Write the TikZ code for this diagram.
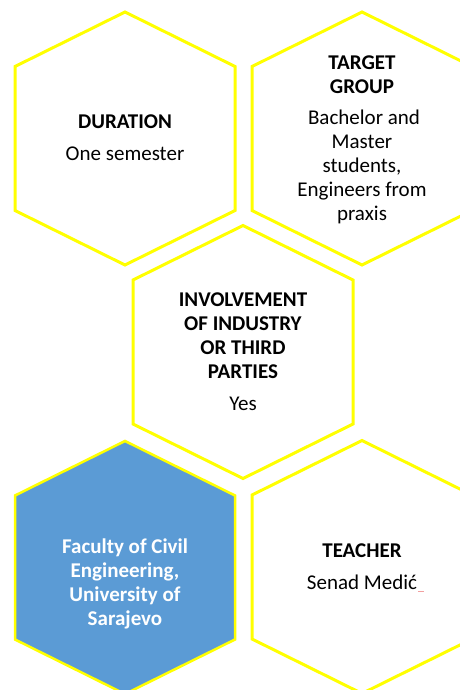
\documentclass[tikz,border=0pt]{standalone}
\usepackage{fontspec}
\setmainfont{Carlito}
\definecolor{hexyellow}{HTML}{FFFF00}
\definecolor{hexblue}{HTML}{5B9BD5}
\definecolor{spellred}{HTML}{F2A0A0}
\tikzset{
  pics/hexagon/.style={code={
    \path[pic actions] (0,-126.5) -- (110,-72) -- (110,72) -- (0,126.5) -- (-110,72) -- (-110,-72) -- cycle;
  }},
  hexline/.style={draw=hexyellow,line width=3bp,line join=miter,fill=white},
  hexfill/.style={draw=hexyellow,line width=2.5bp,line join=miter,fill=hexblue},
  hextext/.style={align=center,inner sep=0pt,text=black,font=\fontsize{21bp}{24bp}\selectfont},
  factext/.style={align=center,inner sep=0pt,text=white,font=\fontsize{21bp}{24bp}\selectfont\bfseries},
}
\begin{document}
\begin{tikzpicture}[x=1bp,y=-1bp]
\useasboundingbox (0,0) rectangle (460,690);
\fill[white] (0,0) rectangle (460,690);
\pic[hexline] at (125,138.5) {hexagon};
\pic[hexline] at (362,138.5) {hexagon};
\pic[hexline] at (243,352) {hexagon};
\pic[hexfill] at (125,567.5) {hexagon};
\pic[hexline] at (362,567) {hexagon};
\node[hextext] (dur) at (125,138) {\textbf{DURATION}\\[8bp]One semester};
\node[hextext] (tg) at (362,139.5) {\textbf{TARGET}\\\textbf{GROUP}\\[7bp]\hspace*{4bp}Bachelor and\\Master\\students,\\Engineers from\\praxis};
\node[hextext] (inv) at (243,351.5) {\textbf{INVOLVEMENT}\\\textbf{OF INDUSTRY}\\\textbf{OR THIRD}\\\textbf{PARTIES}\\[8bp]Yes};
\node[factext] (fac) at (125,583.5) {Faculty of Civil\\Engineering,\\University of\\Sarajevo};
\node[hextext] (tea) at (362,566.5) {\textbf{TEACHER}\\[8bp]Senad Medić};
\coordinate (sq1) at (418,591.5);
\coordinate (sq2) at (424,591.5);
\draw[spellred,line width=0.8bp] (sq1) -- (sq2);
\end{tikzpicture}
\end{document}
